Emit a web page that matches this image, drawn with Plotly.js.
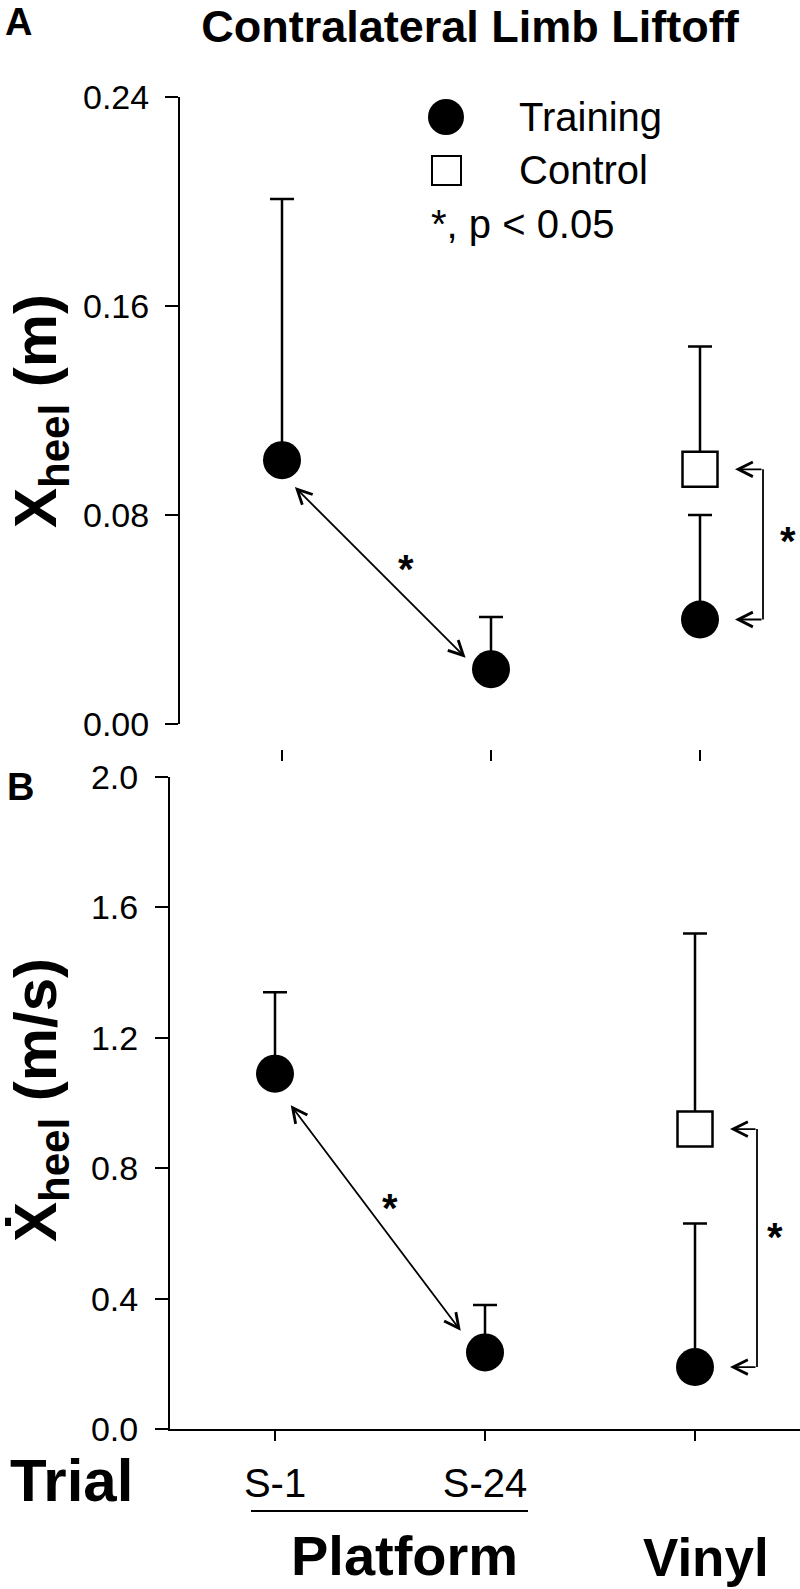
<!DOCTYPE html>
<html>
<head>
<meta charset="utf-8">
<script src="https://cdn.plot.ly/plotly-3.0.1.min.js"></script>
<style>
  html, body { margin: 0; padding: 0; background: #fff; }
  #chart { width: 800px; height: 1589px; }
</style>
</head>
<body>
<div id="chart"></div>
<script>
// --- DATA ---
const trials = [1, 2, 3];            // S-1, S-24, Vinyl
const trialLabels = ['S-1', 'S-24', ''];
const controlTrial = [3];

// A: heel position at contralateral limb liftoff (m), mean and +SD
const posTraining = [0.101, 0.021, 0.040];
const posTrainingSD = [0.100, 0.020, 0.040];
const posControl = [0.0975];
const posControlSD = [0.047];

// B: heel velocity (m/s)
const velTraining = [1.09, 0.235, 0.19];
const velTrainingSD = [0.25, 0.145, 0.44];
const velControl = [0.92];
const velControlSD = [0.60];

const posTicks = [0, 0.08, 0.16, 0.24];
const velTicks = [0, 0.4, 0.8, 1.2, 1.6, 2.0];

// --- HELPERS ---
const W = 800, H = 1589;
const px = v => v / W;          // pixel -> paper x
const py = v => 1 - v / H;      // pixel -> paper y
const FONT = 'Liberation Sans, Arial, Helvetica, sans-serif';

function errBar(sd) {
    return {
        type: 'data', symmetric: false, array: sd, arrayminus: sd.map(() => 0),
        color: 'black', thickness: 2.5, width: 12
    };
}

function trainingTrace(y, sd, xa, ya) {
    return {
        x: trials, y: y, xaxis: xa, yaxis: ya, mode: 'markers', type: 'scatter',
        marker: { symbol: 'circle', size: 38, color: 'black', line: { width: 0 } },
        error_y: errBar(sd), cliponaxis: false, hoverinfo: 'none'
    };
}

function controlTrace(y, sd, xa, ya) {
    return {
        x: controlTrial, y: y, xaxis: xa, yaxis: ya, mode: 'markers', type: 'scatter',
        marker: { symbol: 'square', size: 35, color: 'white', line: { width: 2.5, color: 'black' } },
        error_y: errBar(sd), cliponaxis: false, hoverinfo: 'none'
    };
}

const data = [
    trainingTrace(posTraining, posTrainingSD, 'x', 'y'),
    controlTrace(posControl, posControlSD, 'x', 'y'),
    trainingTrace(velTraining, velTrainingSD, 'x2', 'y2'),
    controlTrace(velControl, velControlSD, 'x2', 'y2')
];

// --- ANNOTATIONS ---
const STAR_LIFT = 9; // asterisk glyph sits above the text box centre

function star(xr, yr, x, y, dx, up) {
    return { xref: xr, yref: yr, x: x, y: y, xshift: dx, yshift: up - STAR_LIFT,
             text: '<b>*</b>', showarrow: false, font: { size: 40, family: FONT, color: 'black' } };
}

function diagArrow(xr, yr, ys, so, sx, sy) {
    return {
        xref: xr, yref: yr, axref: xr, ayref: yr,
        x: trials[1], y: ys[1], ax: trials[0], ay: ys[0],
        text: ' ', font: { size: 1 }, showarrow: true, arrowside: 'end+start',
        arrowhead: 5, startarrowhead: 5, arrowsize: 1.6, startarrowsize: 1.6,
        arrowwidth: 1.8, arrowcolor: 'black', standoff: so, startstandoff: so,
        xshift: sx, yshift: sy
    };
}

function bracketArrow(xr, yr, y, tip, tail) {
    return {
        xref: xr, yref: yr, x: trials[2], y: y, xshift: tip, ax: tail, ay: 0,
        text: ' ', font: { size: 1 }, showarrow: true, arrowhead: 5, arrowsize: 1.6,
        arrowwidth: 1.8, arrowcolor: 'black'
    };
}

function label(text, x, y, size, anchor, angle, yanchor) {
    return { xref: 'paper', yref: 'paper', x: px(x), y: py(y), text: text, showarrow: false,
             xanchor: anchor || 'center', yanchor: yanchor || 'middle', textangle: angle || 0,
             font: { size: size, family: FONT, color: 'black' } };
}

const annotations = [
    label('<b>A</b>', 18, 22, 38),
    label('<b>B</b>', 20, 787, 38),
    label('<b>X<sub>heel</sub> (m)</b>', 40, 411, 60, 'center', -90),
    label('<b>\u1E8A<sub>heel</sub> (m/s)</b>', 40, 1100, 60, 'center', -90),
    // legend text
    label('Training', 517, 117, 40, 'left'),
    label('Control', 517, 170, 40, 'left'),
    label('*, p &lt; 0.05', 429, 224, 40, 'left'),
    // bottom labels
    label('<b>Trial</b>', 71, 1480, 60),
    label('<b>Platform</b>', 404, H, 56, 'center', 0, 'bottom'),
    label('<b>Vinyl</b>', 706, H, 53, 'center', 0, 'bottom'),

    // panel A significance
    diagArrow('x', 'y', posTraining, 26, -7, -7),
    star('x', 'y', 1.5, (posTraining[0] + posTraining[1]) / 2, 19, 5),
    bracketArrow('x', 'y', posControl[0], 35, 28),
    bracketArrow('x', 'y', posTraining[2], 35, 28),
    star('x', 'y', trials[2], (posControl[0] + posTraining[2]) / 2, 88, 12),

    // panel B significance
    diagArrow('x2', 'y2', velTraining, 32, -5, -4),
    star('x2', 'y2', 1.5, (velTraining[0] + velTraining[1]) / 2, 10, 14),
    bracketArrow('x2', 'y2', velControl[0], 35, 27),
    bracketArrow('x2', 'y2', velTraining[2], 35, 27),
    star('x2', 'y2', trials[2], (velControl[0] + velTraining[2]) / 2, 80, 20)
];

// --- SHAPES ---
const shapes = [
    // legend symbols
    { type: 'circle', xref: 'paper', yref: 'paper', x0: px(428), x1: px(464), y0: py(135), y1: py(99),
      fillcolor: 'black', line: { width: 0 } },
    { type: 'rect', xref: 'paper', yref: 'paper', x0: px(432), x1: px(461), y0: py(185), y1: py(156),
      fillcolor: 'white', line: { width: 2, color: 'black' } },
    // platform underline
    { type: 'line', xref: 'paper', yref: 'paper', x0: px(251), x1: px(528), y0: py(1511), y1: py(1511),
      line: { width: 2, color: 'black' } },
    // bracket verticals
    { type: 'line', xref: 'x', yref: 'y', xsizemode: 'pixel', xanchor: trials[2], x0: 63, x1: 63,
      y0: posControl[0], y1: posTraining[2], line: { width: 1.8, color: 'black' } },
    { type: 'line', xref: 'x2', yref: 'y2', xsizemode: 'pixel', xanchor: trials[2], x0: 62, x1: 62,
      y0: velControl[0], y1: velTraining[2], line: { width: 1.8, color: 'black' } }
];

// --- AXES ---
const tickFont = { size: 34, family: FONT, color: 'black' };
const common = { showgrid: false, zeroline: false, ticks: 'outside', tickwidth: 2, tickcolor: 'black',
                 linecolor: 'black', linewidth: 2, fixedrange: true };

const layout = {
    width: W, height: H,
    margin: { l: 0, r: 0, t: 0, b: 0, pad: 0 },
    paper_bgcolor: 'white', plot_bgcolor: 'rgba(0,0,0,0)',
    showlegend: false,
    title: { text: '<b>Contralateral Limb Liftoff</b>', x: px(470), xanchor: 'center',
             y: py(26), yanchor: 'middle',
             font: { size: 45, family: FONT, color: 'black' } },
    xaxis: Object.assign({}, common, {
        domain: [px(180), 1], range: [1 - 102 / 209, 1 - 102 / 209 + 620 / 209],
        anchor: 'free', position: py(749), showline: false, ticklen: 11,
        tickvals: trials, showticklabels: false
    }),
    yaxis: Object.assign({}, common, {
        domain: [py(724), py(97)], range: [0, 0.24], anchor: 'x', showline: true, ticklen: 13,
        tickvals: posTicks, tickformat: '.2f', tickfont: tickFont, ticklabelstandoff: 9
    }),
    xaxis2: Object.assign({}, common, {
        domain: [px(170), 1], range: [0.5, 3.5], anchor: 'y2', showline: true, ticklen: 10,
        tickvals: trials, ticktext: trialLabels,
        tickfont: { size: 40, family: FONT, color: 'black' }, ticklabelstandoff: 8
    }),
    yaxis2: Object.assign({}, common, {
        domain: [py(1429), py(777)], range: [0, 2], anchor: 'x2', showline: true, ticklen: 13,
        tickvals: velTicks, tickformat: '.1f', tickfont: tickFont, ticklabelstandoff: 10
    }),
    annotations: annotations,
    shapes: shapes
};

Plotly.newPlot('chart', data, layout, { staticPlot: true, displayModeBar: false });
</script>
</body>
</html>
